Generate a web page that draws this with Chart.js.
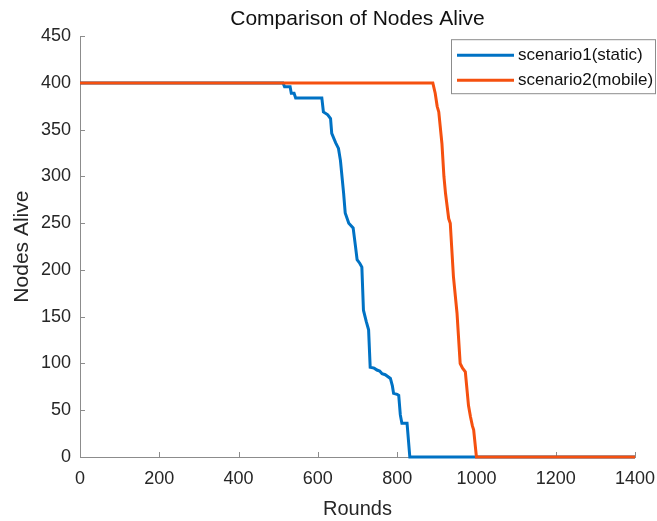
<!DOCTYPE html>
<html><head><meta charset="utf-8">
<script src="https://cdn.jsdelivr.net/npm/chart.js@4.4.1/dist/chart.umd.min.js"></script>
<style>html,body{margin:0;padding:0;background:#fff}#wrap{width:657px;height:521px}</style>
</head><body><div id="wrap"><canvas id="c" width="657" height="521"></canvas></div>
<script>
const chartTitle = 'Comparison of Nodes Alive';
const xAxisLabel = 'Rounds';
const yAxisLabel = 'Nodes Alive';
const seriesNames = ['scenario1(static)', 'scenario2(mobile)'];
const xTicks = [0, 200, 400, 600, 800, 1000, 1200, 1400];
const yTicks = [0, 50, 100, 150, 200, 250, 300, 350, 400, 450];

const s1Rounds = [0, 512, 516, 530, 533, 540, 544, 610, 614, 625, 632, 635, 645, 652, 657, 665, 669, 678, 689, 695, 699, 706, 711, 715, 722, 728, 732, 742, 749, 756, 762, 770, 783, 788, 791, 800, 804, 808, 812, 825, 832, 1400];
const s1Alive  = [400, 400, 396, 396, 389, 389, 384, 384, 369, 366, 362, 346, 336, 330, 317, 282, 261, 250, 245, 225, 211, 207, 203, 157, 145, 136, 96, 95, 93, 92, 89, 88, 84, 76, 68, 67, 66, 45, 36, 36, 0, 0];

const s2Rounds = [0, 890, 896, 901, 905, 913, 918, 922, 930, 934, 942, 951, 959, 965, 972, 980, 985, 990, 993, 1000, 1400];
const s2Alive  = [400, 400, 389, 375, 369, 335, 300, 282, 255, 250, 193, 154, 100, 95, 91, 55, 43, 33, 29, 0, 0];

const FONT = '"Liberation Sans", Arial, Helvetica, sans-serif';
const AXIS_GRAY = '#8c8c8c';
const TEXT = '#262626';
const COLORS = ['#0072C4', '#F5500F'];

const innerTicks = {
  id: 'innerTicks',
  beforeDatasetsDraw(chart) {
    const {ctx, chartArea: ca, scales} = chart;
    ctx.save();
    ctx.strokeStyle = AXIS_GRAY;
    ctx.lineWidth = 1;
    ctx.beginPath();
    xTicks.forEach(v => {
      const px = Math.round(scales.x.getPixelForValue(v)) + 0.5;
      ctx.moveTo(px, ca.bottom);
      ctx.lineTo(px, ca.bottom - 5);
    });
    yTicks.forEach(v => {
      const py = Math.round(scales.y.getPixelForValue(v)) + 0.5;
      ctx.moveTo(ca.left, py);
      ctx.lineTo(ca.left + 5, py);
    });
    ctx.stroke();
    ctx.restore();
  }
};

const boxLegend = {
  id: 'boxLegend',
  afterDraw(chart) {
    const {ctx, chartArea: ca} = chart;
    const bx = ca.right - 184, by = ca.top + 3, bw = 205, bh = 55;
    ctx.save();
    ctx.fillStyle = '#fff';
    ctx.fillRect(bx, by, bw, bh);
    ctx.strokeStyle = AXIS_GRAY;
    ctx.lineWidth = 1;
    ctx.strokeRect(bx + 0.5, by + 0.5, bw - 1, bh - 1);
    ctx.font = '17px ' + FONT;
    ctx.textBaseline = 'middle';
    ctx.textAlign = 'left';
    chart.data.datasets.forEach((ds, i) => {
      const ry = by + 16 + i * 25;
      ctx.strokeStyle = ds.borderColor;
      ctx.lineWidth = 3;
      ctx.beginPath();
      ctx.moveTo(bx + 6, ry);
      ctx.lineTo(bx + 63, ry);
      ctx.stroke();
      ctx.fillStyle = '#111';
      ctx.fillText(ds.label, bx + 67, ry);
    });
    ctx.restore();
  }
};

const toPts = (xs, ys) => xs.map((x, i) => ({x, y: ys[i]}));
const plain = v => String(v);

new Chart(document.getElementById('c'), {
  type: 'line',
  data: {
    datasets: [
      {label: seriesNames[0], data: toPts(s1Rounds, s1Alive), borderColor: COLORS[0], backgroundColor: COLORS[0],
       borderWidth: 3, pointRadius: 0, tension: 0, order: 1, clip: false},
      {label: seriesNames[1], data: toPts(s2Rounds, s2Alive), borderColor: COLORS[1], backgroundColor: COLORS[1],
       borderWidth: 3, pointRadius: 0, tension: 0, order: 0, clip: false}
    ]
  },
  options: {
    responsive: false,
    animation: false,
    devicePixelRatio: 1,
    layout: {padding: {left: 0, right: 22, top: 0, bottom: 0}},
    plugins: {
      legend: {display: false},
      tooltip: {enabled: false},
      title: {display: true, text: chartTitle, fullSize: false, color: '#111',
              font: {family: FONT, size: 21, weight: 'normal'}, padding: {top: 7, bottom: 4}}
    },
    scales: {
      x: {
        type: 'linear', min: 0, max: 1400,
        afterBuildTicks: s => { s.ticks = xTicks.map(v => ({value: v})); },
        afterFit: s => { s.height = 64; s.paddingRight = 0; s.paddingLeft = 0; },
        grid: {display: false, drawTicks: false},
        border: {display: true, color: AXIS_GRAY, width: 1},
        ticks: {color: TEXT, font: {family: FONT, size: 18}, padding: 11, maxRotation: 0, autoSkip: false, callback: plain},
        title: {display: true, text: xAxisLabel, color: TEXT, font: {family: FONT, size: 20}, padding: {top: 0, bottom: 0}}
      },
      y: {
        type: 'linear', min: 0, max: 450,
        afterBuildTicks: s => { s.ticks = yTicks.map(v => ({value: v})); },
        afterFit: s => { s.width = 80; s.paddingTop = 0; s.paddingBottom = 0; },
        grid: {display: false, drawTicks: false},
        border: {display: true, color: AXIS_GRAY, width: 1},
        ticks: {color: TEXT, font: {family: FONT, size: 18}, padding: 9, autoSkip: false, callback: plain},
        title: {display: true, text: yAxisLabel, color: TEXT, font: {family: FONT, size: 21}, padding: {top: 10, bottom: 0}}
      }
    }
  },
  plugins: [innerTicks, boxLegend]
});
</script>
</body></html>
